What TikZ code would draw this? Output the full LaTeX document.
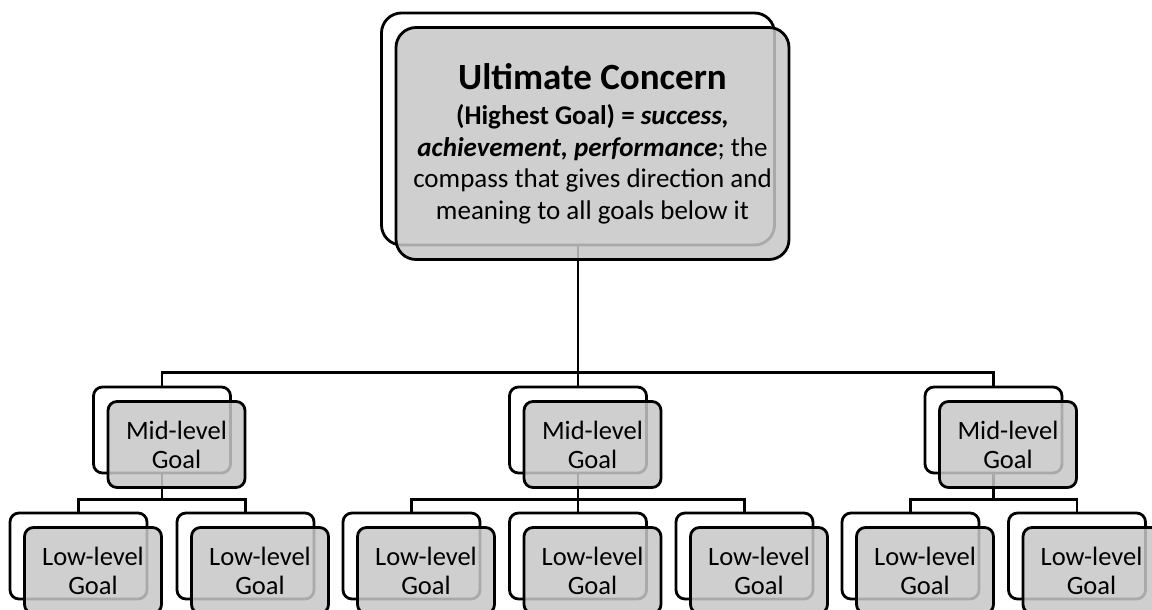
\documentclass[tikz,border=0pt]{standalone}
\usepackage{fontspec}
\setmainfont{Carlito}
\usetikzlibrary{positioning}

\begin{document}
\begin{tikzpicture}[x=1pt, y=1pt,
    back/.style={draw, line width=2.8pt, rounded corners=9pt, fill=white,
        minimum width=137pt, minimum height=86pt, inner sep=0pt},
    goal/.style={back, fill=black!22, fill opacity=0.85, text opacity=1,
        xshift=14.5pt, yshift=-14.5pt, align=center,
        font=\fontsize{26.5}{29}\selectfont},
    big/.style={minimum width=393pt, minimum height=232pt, rounded corners=20pt},
    link/.style={line width=2.8pt}
]
    \useasboundingbox (0,0) rectangle (1152,-610);
    \clip (0,0) rectangle (1152,-610);
    % back frames
    \node[back, big] (top-b) at (578,-129) {};
    \node[back] (mid1-b) at (162,-430) {};
    \node[back] (mid2-b) at (578,-430) {};
    \node[back] (mid3-b) at (993.5,-430) {};
    \foreach \i/\x in {1/78.5, 2/245.5, 3/411.5, 4/578, 5/744.5, 6/910.5, 7/1077}
        \node[back] (low\i-b) at (\x,-556) {};
    % links
    \foreach \m in {1,2,3}
        \draw[link] (mid\m-b.north) -- ++(0,13) -| (top-b.south);
    \foreach \l/\m in {1/1, 2/1, 3/2, 4/2, 5/2, 6/3, 7/3}
        \draw[link] (low\l-b.north) -- ++(0,12) -| (mid\m-b.south);
    % front boxes
    \node[goal, big, font=\fontsize{27}{31.5}\selectfont] (top) at (top-b)
        {{\fontsize{37}{37}\selectfont\bfseries Ultimate Concern}\\[4pt]
         \textbf{(Highest Goal) = \textit{success,}}\\
         \textbf{\textit{achievement, performance}}; the\\
         compass that gives direction and\\
         meaning to all goals below it};
    \foreach \m in {1,2,3}
        \node[goal] (mid\m) at (mid\m-b) {Mid-level\\Goal};
    \foreach \i in {1,...,7}
        \node[goal] (low\i) at (low\i-b) {Low-level\\Goal};
\end{tikzpicture}
\end{document}
